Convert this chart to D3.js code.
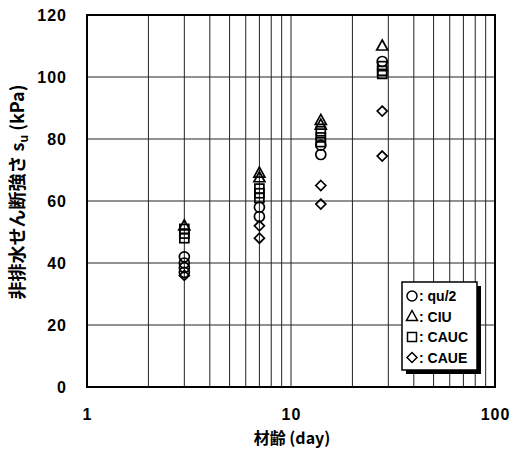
<!DOCTYPE html>
<html>
<head>
<meta charset="utf-8">
<script src="https://cdn.jsdelivr.net/npm/d3@7"></script>
<style>
  html, body { margin: 0; padding: 0; background: #fff; }
  svg { display: block; }
  text { font-family: "Liberation Sans", "Noto Sans CJK JP", Arial, sans-serif; fill: #000; font-weight: bold; }
  .cjk { font-family: "Noto Sans CJK JP", "Liberation Sans", sans-serif; }
</style>
</head>
<body>
<svg id="chart" width="512" height="456"></svg>
<script>
// Curing age (days) and undrained shear strength (kPa) per test type
const qu2Days  = [3, 3, 3, 3, 7, 7, 14, 14, 28];
const qu2Vals  = [42, 40, 38.5, 37, 58, 55, 78, 75, 105];
const ciuDays  = [3, 7, 7, 14, 14, 28];
const ciuVals  = [52, 69, 67.5, 86, 84.5, 110];
const caucDays = [3, 3, 3, 7, 7, 7, 14, 14, 14, 28, 28, 28];
const caucVals = [51, 49.5, 48, 64, 62.5, 61, 82.5, 80.5, 79, 103.5, 102, 101];
const caueDays = [3, 7, 7, 14, 14, 28, 28];
const caueVals = [36, 52, 48, 65, 59, 89, 74.5];

const xTicks = [1, 10, 100];
const yTicks = [0, 20, 40, 60, 80, 100, 120];
const legendLabels = ["qu/2", "CIU", "CAUC", "CAUE"];

const svg = d3.select("#chart");
const x = d3.scaleLog().domain([1, 100]).range([87, 495]);
const y = d3.scaleLinear().domain([0, 120]).range([387, 15]);

// vertical grid at every log sub-decade
const minorX = [];
for (const dec of [1, 10]) for (let k = 2; k <= 9; k++) minorX.push(dec * k);
minorX.push(10);
svg.append("g").selectAll("line").data(minorX).join("line")
  .attr("x1", d => x(d)).attr("x2", d => x(d))
  .attr("y1", y(120)).attr("y2", y(0))
  .attr("stroke", "#222").attr("stroke-width", 1);

// horizontal grid
svg.append("g").selectAll("line").data(yTicks.slice(1, -1)).join("line")
  .attr("x1", x(1)).attr("x2", x(100))
  .attr("y1", d => y(d)).attr("y2", d => y(d))
  .attr("stroke", "#222").attr("stroke-width", 1);

// frame
svg.append("rect")
  .attr("x", x(1)).attr("y", y(120))
  .attr("width", x(100) - x(1)).attr("height", y(0) - y(120))
  .attr("fill", "none").attr("stroke", "#000").attr("stroke-width", 2);

// axes (labels only; frame drawn above)
const yAxis = svg.append("g").attr("transform", `translate(${x(1)},0)`)
  .call(d3.axisLeft(y).tickValues(yTicks).tickSize(0).tickPadding(20));
const xAxis = svg.append("g").attr("transform", `translate(0,${y(0)})`)
  .call(d3.axisBottom(x).tickValues(xTicks).tickFormat(d3.format("d")).tickSize(0).tickPadding(22));
[yAxis, xAxis].forEach(g => {
  g.select(".domain").remove();
  g.selectAll("text").style("font-size", "16px").style("font-weight", "bold")
    .style("font-family", "'Liberation Sans', Arial, sans-serif").attr("letter-spacing", "1px");
});

// symbols
const sym = {
  circle:   g => g.append("circle").attr("r", 5),
  triangle: g => g.append("path").attr("d", "M0,-6L5.5,4L-5.5,4Z"),
  square:   g => g.append("rect").attr("x", -4.5).attr("y", -4.5).attr("width", 9).attr("height", 9),
  diamond:  g => g.append("path").attr("d", "M0,-5L5,0L0,5L-5,0Z")
};
const series = [
  { days: qu2Days,  vals: qu2Vals,  shape: "circle" },
  { days: ciuDays,  vals: ciuVals,  shape: "triangle" },
  { days: caucDays, vals: caucVals, shape: "square" },
  { days: caueDays, vals: caueVals, shape: "diamond" }
];
const marks = svg.append("g").attr("fill", "none").attr("stroke", "#000").attr("stroke-width", 1.7);
series.forEach(s => {
  s.days.forEach((d, i) => {
    const g = marks.append("g").attr("transform", `translate(${x(d)},${y(s.vals[i])})`);
    sym[s.shape](g);
  });
});

// legend with drop shadow
const lg = svg.append("g").attr("transform", "translate(402,282)");
lg.append("rect").attr("x", 4).attr("y", 4).attr("width", 75).attr("height", 88).attr("fill", "#000");
lg.append("rect").attr("width", 75).attr("height", 88).attr("fill", "#fff").attr("stroke", "#000").attr("stroke-width", 1.5);
const shapes = ["circle", "triangle", "square", "diamond"];
legendLabels.forEach((lab, i) => {
  const cy = 14 + i * 20.5;
  const g = lg.append("g").attr("transform", `translate(10,${cy})`)
    .attr("fill", "none").attr("stroke", "#000").attr("stroke-width", 1.5);
  sym[shapes[i]](g);
  lg.append("text").attr("x", 17).attr("y", cy + 5).style("font-size", "14px").text(": " + lab);
});

// axis titles
svg.append("text").attr("class", "cjk").attr("x", 292).attr("y", 444).attr("text-anchor", "middle")
  .style("font-size", "16px")
  .text("材齢 (day)");
const yt = svg.append("text").attr("class", "cjk").attr("transform", "translate(24,192) rotate(-90)")
  .attr("text-anchor", "middle").style("font-size", "18px");
yt.append("tspan").text("非排水せん断強さ s");
yt.append("tspan").attr("dy", 4).style("font-size", "12px").text("u");
yt.append("tspan").attr("dy", -4).text(" (kPa)");
</script>
</body>
</html>
